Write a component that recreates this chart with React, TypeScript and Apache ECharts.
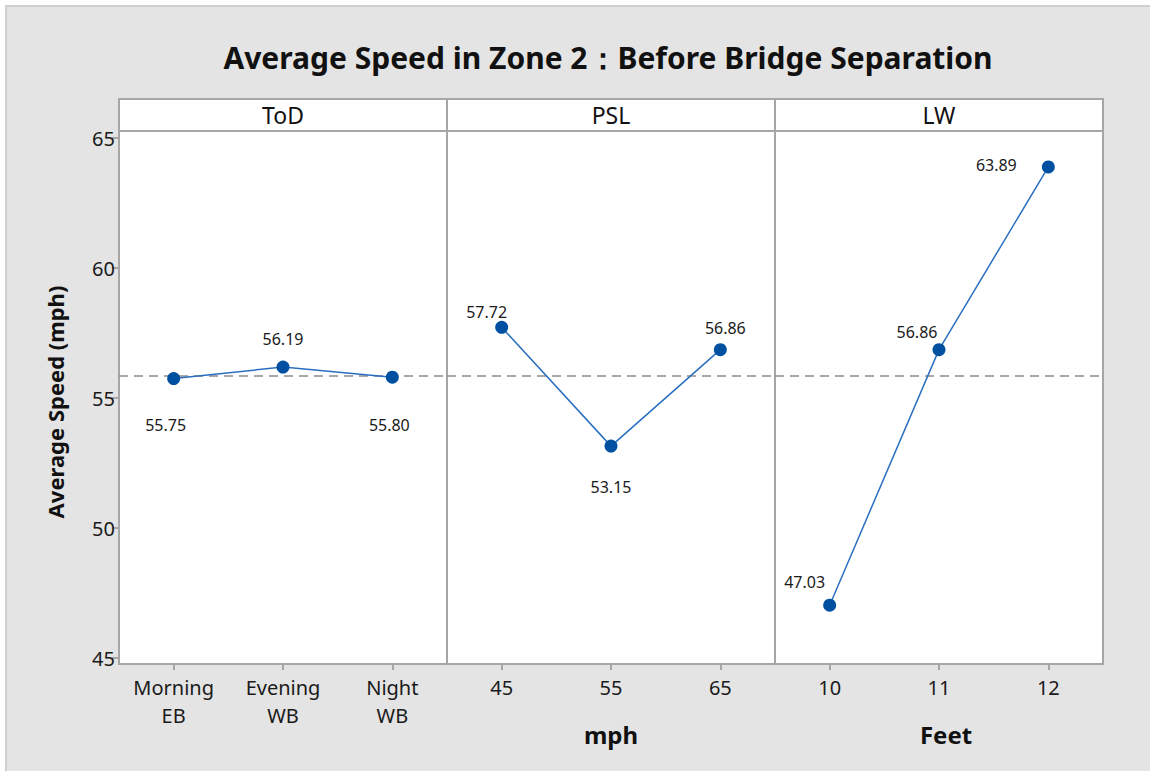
import React, { useEffect, useRef } from "react";
import * as echarts from "echarts";

const panelNames = ["ToD", "PSL", "LW"];
const todCategories = ["Morning\nEB", "Evening\nWB", "Night\nWB"];
const pslCategories = ["45", "55", "65"];
const lwCategories = ["10", "11", "12"];
const todValues = [55.75, 56.19, 55.8];
const pslValues = [57.72, 53.15, 56.86];
const lwValues = [47.03, 56.86, 63.89];
const yTicks = [45, 50, 55, 60, 65];
const grandMean = 55.86;
const titleText = "Average Speed in Zone 2：Before Bridge Separation";
const yAxisName = "Average Speed (mph)";
const xAxisNames = ["", "mph", "Feet"];

const labelOffsets = [
  [[-8, 46], [0, -28], [-3, 48]],
  [[-15, -15], [0, 41], [5, -22]],
  [[-25, -23], [-22, -18], [-52, -2]],
];

const FONT = "'Noto Sans', 'Open Sans', sans-serif";

export default function App() {
  const ref = useRef<HTMLDivElement>(null);
  useEffect(() => {
    if (!ref.current) return;
    const chart = echarts.init(ref.current, null, { renderer: "svg" });
    const cats = [todCategories, pslCategories, lwCategories];
    const vals = [todValues, pslValues, lwValues];
    const lefts = [119, 447, 775];
    const width = 328;
    const top = 131;
    const height = 533;
    const frame = "#a6a6a6";

    const grids = lefts.map((l) => ({
      left: l,
      top,
      width,
      height,
      show: true,
      backgroundColor: "#ffffff",
      borderColor: frame,
      borderWidth: 2,
      containLabel: false,
    }));

    const xAxes = cats.map((c, i) => ({
      type: "category",
      gridIndex: i,
      data: c,
      boundaryGap: true,
      axisLine: { show: false },
      axisTick: { show: true, alignWithLabel: true, length: 6, lineStyle: { color: frame, width: 2 }, inside: false },
      axisLabel: { color: "#1a1a1a", fontSize: 20, fontFamily: FONT, margin: 9, lineHeight: 28 },
      splitLine: { show: false },
    }));

    const yAxes = [0, 1, 2].map((i) => ({
      type: "value",
      gridIndex: i,
      min: 44.77,
      max: 65.27,
      axisLine: { show: false },
      axisTick: { show: i === 0, length: 7, lineStyle: { color: frame, width: 2 }, customValues: yTicks },
      axisLabel: { show: i === 0, color: "#1a1a1a", fontSize: 20, fontFamily: FONT, margin: 4, customValues: yTicks },
      splitLine: { show: false },
    }));

    const series = vals.map((v, i) => ({
      type: "line",
      xAxisIndex: i,
      yAxisIndex: i,
      data: v.map((val, j) => ({
        value: val,
        label: { offset: labelOffsets[i][j] },
      })),
      symbol: "circle",
      symbolSize: 13,
      itemStyle: { color: "#0050a2" },
      lineStyle: { color: "#2a6fc0", width: 1.5 },
      label: {
        show: true,
        position: "inside",
        formatter: (p: any) => Number(p.value).toFixed(2),
        color: "#1a1a1a",
        fontSize: 16,
        fontFamily: FONT,
      },
      z: 5,
      markLine: {
        silent: true,
        symbol: "none",
        label: { show: false },
        lineStyle: { color: "#8c8c8c", type: [9, 6], width: 1.5 },
        data: [{ yAxis: grandMean }],
        z: 2,
      },
    }));

    const graphics: any[] = [
      {
        type: "rect",
        shape: { x: 6, y: 6, width: 1150, height: 771 },
        style: { fill: "#e4e4e4", stroke: "#cfcfcf", lineWidth: 2 },
        z: -10,
      },
      {
        type: "rect",
        shape: { x: 119, y: 99, width: 984, height: 32 },
        style: { fill: "#ffffff", stroke: frame, lineWidth: 2 },
        z: 10,
      },
      {
        type: "text",
        x: 608,
        y: 57,
        style: { text: titleText, font: `bold 30px ${FONT}`, fill: "#111", align: "center", verticalAlign: "middle" },
        z: 10,
      },
      {
        type: "text",
        x: 55,
        y: 402,
        rotation: Math.PI / 2,
        style: { text: yAxisName, font: `bold 22px ${FONT}`, fill: "#111", align: "center", verticalAlign: "middle" },
        z: 10,
      },
    ];
    panelNames.forEach((n, i) => {
      graphics.push({
        type: "text",
        x: lefts[i] + width / 2,
        y: 115,
        style: { text: n, font: `23px ${FONT}`, fill: "#111", align: "center", verticalAlign: "middle" },
        z: 11,
      });
      if (i > 0) {
        graphics.push({
          type: "line",
          shape: { x1: lefts[i], y1: 99, x2: lefts[i], y2: 131 },
          style: { stroke: frame, lineWidth: 2 },
          z: 11,
        });
      }
      if (xAxisNames[i]) {
        graphics.push({
          type: "text",
          x: lefts[i] + width / 2 + (i === 2 ? 7 : 0),
          y: 734,
          style: { text: xAxisNames[i], font: `bold 24px ${FONT}`, fill: "#111", align: "center", verticalAlign: "middle" },
          z: 10,
        });
      }
    });

    chart.setOption({
      animation: false,
      backgroundColor: "#ffffff",
      grid: grids,
      xAxis: xAxes,
      yAxis: yAxes,
      series,
      graphic: graphics,
    });
    return () => chart.dispose();
  }, []);
  return (
    <div
      ref={ref}
      style={{ position: "fixed", left: 0, top: 0, width: 1150, height: 771 }}
    />
  );
}
